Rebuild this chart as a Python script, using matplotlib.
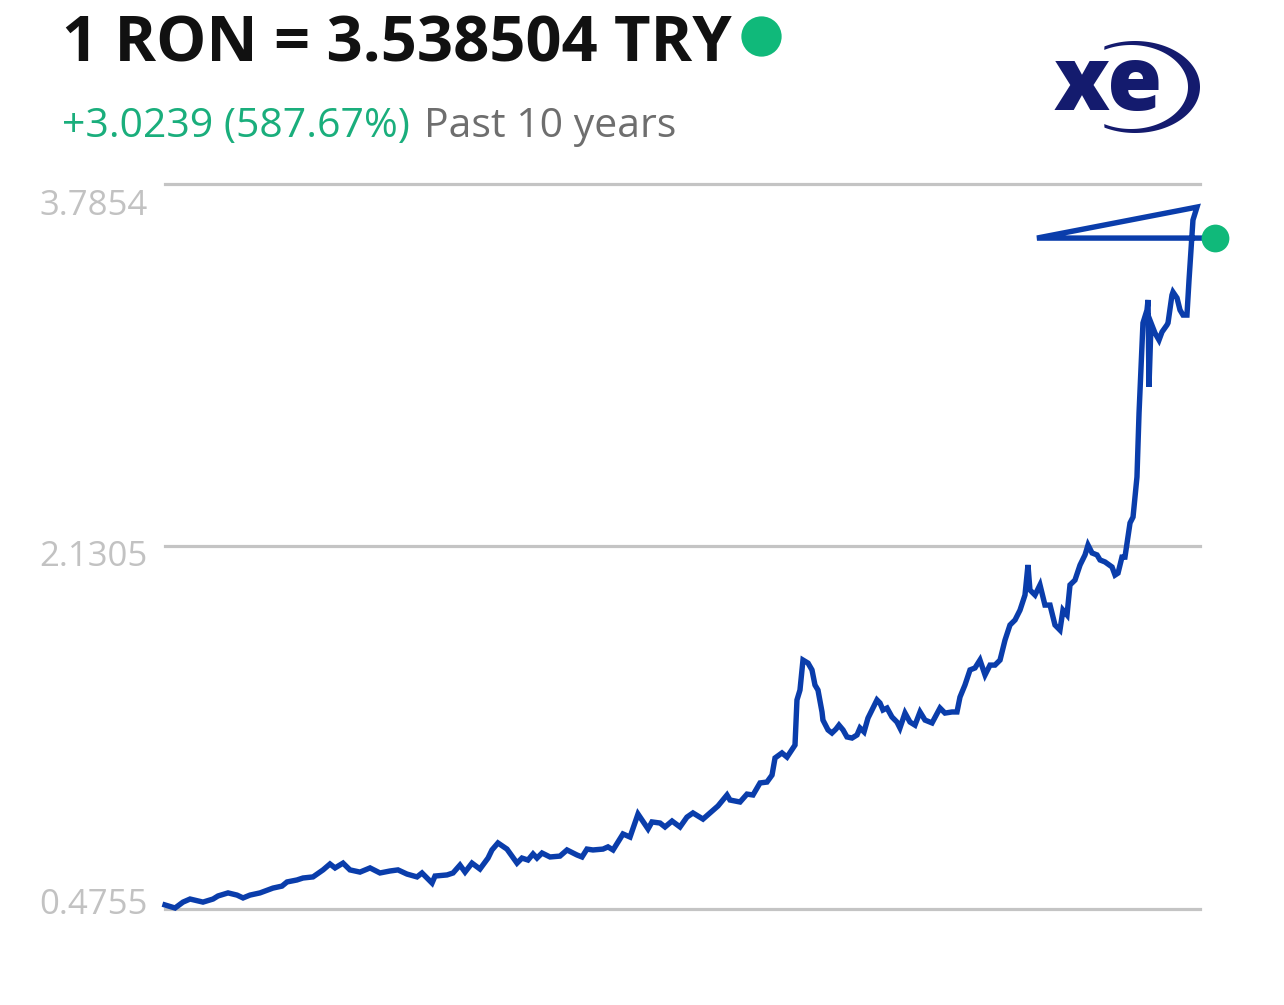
import numpy as np
import matplotlib
matplotlib.use('Agg')
import matplotlib.pyplot as plt
from matplotlib.patches import Polygon

plt.rcParams['font.family'] = ['Open Sans', 'DejaVu Sans']

# RON -> TRY, past 10 years (x = years since start)
years = [0.000, 0.097, 0.174, 0.242, 0.367, 0.464, 0.512, 0.609, 0.696, 0.754,
         0.821, 0.918, 1.043, 1.130, 1.179, 1.275, 1.333, 1.430, 1.527, 1.594,
         1.643, 1.720, 1.787, 1.884, 1.981, 2.077, 2.174, 2.251, 2.338, 2.435,
         2.483, 2.580, 2.609, 2.725, 2.783, 2.850, 2.899, 2.966, 3.043, 3.121,
         3.159, 3.217, 3.304, 3.401, 3.449, 3.507, 3.556, 3.594, 3.643, 3.720,
         3.816, 3.884, 3.981, 4.029, 4.077, 4.135, 4.232, 4.280, 4.329, 4.425,
         4.493, 4.570, 4.667, 4.705, 4.783, 4.831, 4.899, 4.976, 5.043, 5.101,
         5.198, 5.266, 5.343, 5.430, 5.459, 5.556, 5.623, 5.681, 5.749, 5.816,
         5.865, 5.894, 5.961, 6.010, 6.087, 6.106, 6.135, 6.164, 6.213, 6.251,
         6.280, 6.309, 6.348, 6.357, 6.406, 6.444, 6.483, 6.512, 6.551, 6.589,
         6.638, 6.686, 6.715, 6.754, 6.792, 6.879, 6.908, 6.937, 6.976, 7.024,
         7.072, 7.101, 7.150, 7.198, 7.246, 7.295, 7.343, 7.411, 7.488, 7.536,
         7.604, 7.652, 7.681, 7.729, 7.778, 7.826, 7.874, 7.923, 7.971, 8.019,
         8.068, 8.116, 8.164, 8.213, 8.261, 8.309, 8.338, 8.357, 8.406, 8.454,
         8.502, 8.551, 8.599, 8.647, 8.676, 8.715, 8.744, 8.792, 8.841, 8.889,
         8.918, 8.957, 9.005, 9.034, 9.082, 9.150, 9.179, 9.208, 9.246, 9.275,
         9.324, 9.353, 9.391, 9.411, 9.430, 9.449, 9.488, 9.498, 9.507, 9.527,
         9.565, 9.604, 9.633, 9.681, 9.691, 9.729, 9.739, 9.778, 9.807, 9.836,
         9.874, 9.894, 9.932, 9.971, 8.425, 10.145]
rate = [0.494, 0.480, 0.507, 0.521, 0.507, 0.521, 0.535, 0.549, 0.539, 0.526,
        0.539, 0.549, 0.571, 0.580, 0.599, 0.608, 0.617, 0.622, 0.654, 0.681,
        0.663, 0.685, 0.654, 0.644, 0.663, 0.640, 0.649, 0.654, 0.635, 0.622,
        0.640, 0.594, 0.626, 0.631, 0.640, 0.676, 0.644, 0.685, 0.658, 0.708,
        0.745, 0.777, 0.749, 0.685, 0.708, 0.699, 0.727, 0.708, 0.731, 0.713,
        0.717, 0.745, 0.722, 0.713, 0.749, 0.745, 0.749, 0.759, 0.745, 0.818,
        0.804, 0.909, 0.841, 0.873, 0.868, 0.850, 0.877, 0.850, 0.895, 0.914,
        0.886, 0.914, 0.946, 0.996, 0.973, 0.964, 1.000, 0.996, 1.051, 1.055,
        1.087, 1.165, 1.188, 1.169, 1.224, 1.430, 1.475, 1.612, 1.598, 1.567,
        1.498, 1.475, 1.375, 1.338, 1.293, 1.279, 1.297, 1.315, 1.293, 1.261,
        1.256, 1.270, 1.302, 1.284, 1.347, 1.430, 1.416, 1.384, 1.393, 1.352,
        1.329, 1.302, 1.370, 1.329, 1.315, 1.375, 1.338, 1.325, 1.393, 1.370,
        1.375, 1.375, 1.443, 1.498, 1.567, 1.576, 1.612, 1.544, 1.589, 1.589,
        1.612, 1.703, 1.772, 1.795, 1.840, 1.909, 2.046, 1.932, 1.909, 1.955,
        1.863, 1.863, 1.772, 1.749, 1.840, 1.818, 1.955, 1.977, 2.046, 2.092,
        2.137, 2.101, 2.092, 2.069, 2.060, 2.037, 2.000, 2.009, 2.082, 2.082,
        2.238, 2.265, 2.448, 2.740, 2.950, 3.151, 3.210, 3.256, 2.859, 3.151,
        3.105, 3.073, 3.110, 3.142, 3.151, 3.278, 3.292, 3.265, 3.210, 3.187,
        3.187, 3.347, 3.621, 3.680, 3.5385, 3.5385]

y_ticks = [0.4755, 2.1305, 3.7854]
y_labels = ['0.4755', '2.1305', '3.7854']
label_drop = [-4, 11, 22]   # px below their gridline

title = '1 RON = 3.538504 TRY'
change = '+3.0239 (587.67%)'
period = 'Past 10 years'

blue = '#0a3dab'
green = '#10b97a'
W, H = 1284, 1005

fig = plt.figure(figsize=(W / 100, H / 100), dpi=100)
fig.patch.set_facecolor('white')

# chart area
ax = fig.add_axes([165 / W, 96 / H, 1035 / W, 725 / H])
ax.set_xlim(0, 10)
ax.set_ylim(y_ticks[0], y_ticks[-1])
ax.axis('off')
for v in y_ticks:
    ax.axhline(v, color='#c4c4c4', lw=2.3, clip_on=False, zorder=1)
for v, lab, d in zip(y_ticks, y_labels, label_drop):
    ax.annotate(lab, xy=(0, v), xycoords=('axes fraction', 'data'),
                xytext=(-17, -d), textcoords='offset pixels',
                ha='right', va='center', fontsize=25, color='#c2c2c2')

ax.plot(years, rate, color=blue, lw=3.9, clip_on=False, zorder=3,
        solid_joinstyle='miter')
ax.plot(years[-1], rate[-1], 'o', ms=20, color=green, mec='none',
        clip_on=False, zorder=4)

# header / logo layer in pixel coords
deco = fig.add_axes([0, 0, 1, 1])
deco.set_xlim(0, W)
deco.set_ylim(H, 0)
deco.axis('off')
deco.patch.set_alpha(0)

t1 = deco.text(62, 61, title, fontsize=45.5, fontweight='bold', color='#111111',
               va='baseline', ha='left')
t2 = deco.text(62, 137, change, fontsize=29.5, color='#1aae7c',
               va='baseline', ha='left')
fig.canvas.draw()
r = fig.canvas.get_renderer()
bb1 = t1.get_window_extent(r)
bb2 = t2.get_window_extent(r)
deco.plot(bb1.x1 + 29, 36, 'o', ms=29, color=green, mec='none')
deco.text(bb2.x1 + 14, 137, period, fontsize=29.5, color='#6e6e6e',
          va='baseline', ha='left')

# xe logo
navy = '#141b6e'
deco.text(1108, 110, 'xe', fontsize=64, fontweight='heavy', color=navy,
          ha='center', va='baseline')
th = np.radians(np.linspace(118, -118, 120))
outer = np.c_[1135 + 65 * np.cos(th), 87 - 46 * np.sin(th)]
inner = np.c_[1131 + 57 * np.cos(th[::-1]), 87 - 42 * np.sin(th[::-1])]
deco.add_patch(Polygon(np.vstack([outer, inner]), closed=True,
                       color=navy, lw=0))

fig.savefig('out.png', dpi=100, facecolor='white')
